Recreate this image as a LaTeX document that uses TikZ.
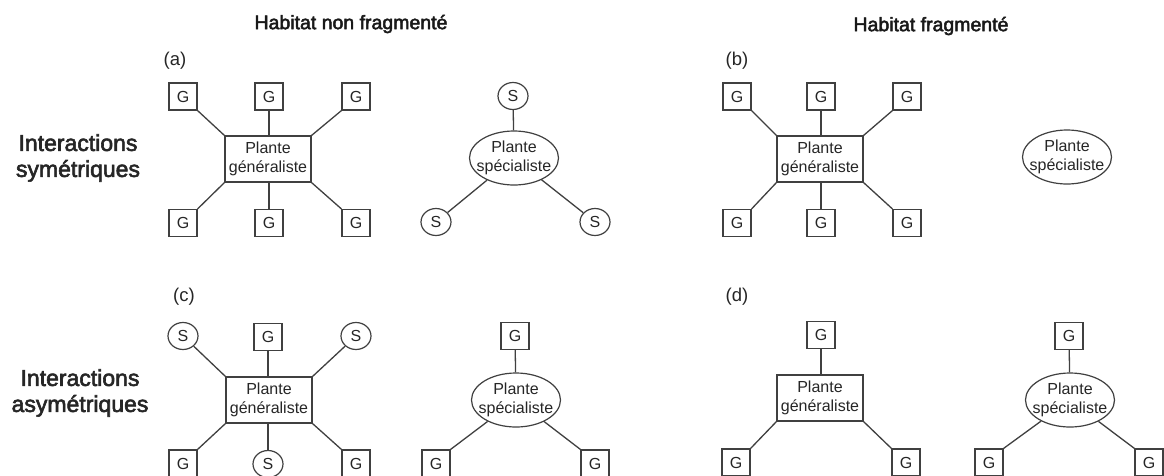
\documentclass[tikz,border=0pt]{standalone}
\usepackage{fontspec}
\setmainfont{Liberation Sans}
\newfontfamily\medfont[FakeBold=2.5]{Liberation Sans}
\usetikzlibrary{shapes.geometric}
\definecolor{ln}{gray}{0.25}
\tikzset{
  base/.style={draw=ln, line width=1.2pt, fill=white, inner sep=0pt, text=black!85,
    font=\fontsize{16}{19.5}\selectfont, align=center},
  gbox/.style={base, rectangle, minimum width=28pt, minimum height=27pt},
  scirc/.style={base, ellipse, minimum width=30pt, minimum height=27pt},
  prect/.style={base, rectangle, minimum width=86pt, minimum height=46pt},
  pell/.style={base, ellipse, inner xsep=-6.5pt, minimum width=89pt, minimum height=54pt},
  link/.style={draw=ln, line width=1.3pt},
  head/.style={font=\medfont\fontsize{19.5}{23}\selectfont, text=black!90},
  side/.style={font=\medfont\fontsize{23}{26}\selectfont, text=black!85, align=center},
  tag/.style={font=\fontsize{18.5}{22}\selectfont, text=black!85}
}
\begin{document}
\begin{tikzpicture}[x=1pt,y=-1pt]
\useasboundingbox (0,0) rectangle (1164,475);
\clip (0,0) rectangle (1164,475);
\fill[white] (0,0) rectangle (1164,475);

% headings
\node[head] (h1) at (351,24) {Habitat non fragmenté};
\node[head] (h2) at (931,26) {Habitat fragmenté};
\node[side] (r1) at (78,158) {Interactions\\symétriques};
\node[side] (r2) at (80,393) {Interactions\\asymétriques};
\node[tag] (ta) at (175,61) {(a)};
\node[tag] (tb) at (737,61) {(b)};
\node[tag] (tc) at (184,297) {(c)};
\node[tag] (td) at (737,297) {(d)};

% ---- panel (a) generalist
\node[prect] (ar) at (268,159) {Plante\\généraliste};
\node[gbox] (ag1) at (183,96.5) {G};
\node[gbox] (ag2) at (269,96.5) {G};
\node[gbox] (ag3) at (356,96.5) {G};
\node[gbox] (ag4) at (183,223) {G};
\node[gbox] (ag5) at (269,223) {G};
\node[gbox] (ag6) at (356,223) {G};
\draw[link] (ar.north west) -- (ag1.south east);
\draw[link] (ar.north -| ag2) -- (ag2.south);
\draw[link] (ar.north east) -- (ag3.south west);
\draw[link] (ar.south west) -- (ag4.north east);
\draw[link] (ar.south -| ag5) -- (ag5.north);
\draw[link] (ar.south east) -- (ag6.north west);

% ---- panel (a) specialist
\node[pell] (ae) at (514,158) {Plante\\spécialiste};
\node[scirc] (as1) at (513,96) {S};
\node[scirc] (as2) at (436,222) {S};
\node[scirc] (as3) at (595,222) {S};
\draw[link] (ae) -- (as1);
\draw[link] (ae) -- (as2);
\draw[link] (ae) -- (as3);

% ---- panel (b) generalist
\node[prect] (br) at (820,159) {Plante\\généraliste};
\node[gbox] (bg1) at (737,96.5) {G};
\node[gbox] (bg2) at (821,96.5) {G};
\node[gbox] (bg3) at (907,96.5) {G};
\node[gbox] (bg4) at (737,223) {G};
\node[gbox] (bg5) at (821,223) {G};
\node[gbox] (bg6) at (907,223) {G};
\draw[link] (br.north west) -- (bg1.south east);
\draw[link] (br.north -| bg2) -- (bg2.south);
\draw[link] (br.north east) -- (bg3.south west);
\draw[link] (br.south west) -- (bg4.north east);
\draw[link] (br.south -| bg5) -- (bg5.north);
\draw[link] (br.south east) -- (bg6.north west);

% ---- panel (b) specialist (isolated)
\node[pell] (be) at (1067,157) {Plante\\spécialiste};

% ---- panel (c) generalist
\node[prect] (cr) at (269,400) {Plante\\généraliste};
\node[scirc] (cs1) at (183,336) {S};
\node[gbox] (cg2) at (268,337) {G};
\node[scirc] (cs3) at (356,336) {S};
\node[gbox] (cg4) at (183,463.5) {G};
\node[scirc] (cs5) at (268,464) {S};
\node[gbox] (cg6) at (356,463.5) {G};
\draw[link] (cr.north west) -- (cs1);
\draw[link] (cr.north -| cg2) -- (cg2.south);
\draw[link] (cr.north east) -- (cs3);
\draw[link] (cr.south west) -- (cg4.north east);
\draw[link] (cr.south -| cs5) -- (cs5.north);
\draw[link] (cr.south east) -- (cg6.north west);

% ---- panel (c) specialist
\node[pell] (ce) at (516,400) {Plante\\spécialiste};
\node[gbox] (cg7) at (515,336) {G};
\node[gbox] (cg8) at (436,463.5) {G};
\node[gbox] (cg9) at (595,463.5) {G};
\draw[link] (ce) -- (cg7);
\draw[link] (ce) -- (cg8.north east);
\draw[link] (ce) -- (cg9.north west);

% ---- panel (d) generalist
\node[prect] (dr) at (820,398) {Plante\\généraliste};
\node[gbox] (dg1) at (821,335) {G};
\node[gbox] (dg2) at (736,462.5) {G};
\node[gbox] (dg3) at (906,462.5) {G};
\draw[link] (dr.north -| dg1) -- (dg1.south);
\draw[link] (dr.south west) -- (dg2.north east);
\draw[link] (dr.south east) -- (dg3.north west);

% ---- panel (d) specialist
\node[pell] (de) at (1070,400) {Plante\\spécialiste};
\node[gbox] (dg4) at (1069,336) {G};
\node[gbox] (dg5) at (989,462.5) {G};
\node[gbox] (dg6) at (1149,462.5) {G};
\draw[link] (de) -- (dg4);
\draw[link] (de) -- (dg5.north east);
\draw[link] (de) -- (dg6.north west);
\end{tikzpicture}
\end{document}
